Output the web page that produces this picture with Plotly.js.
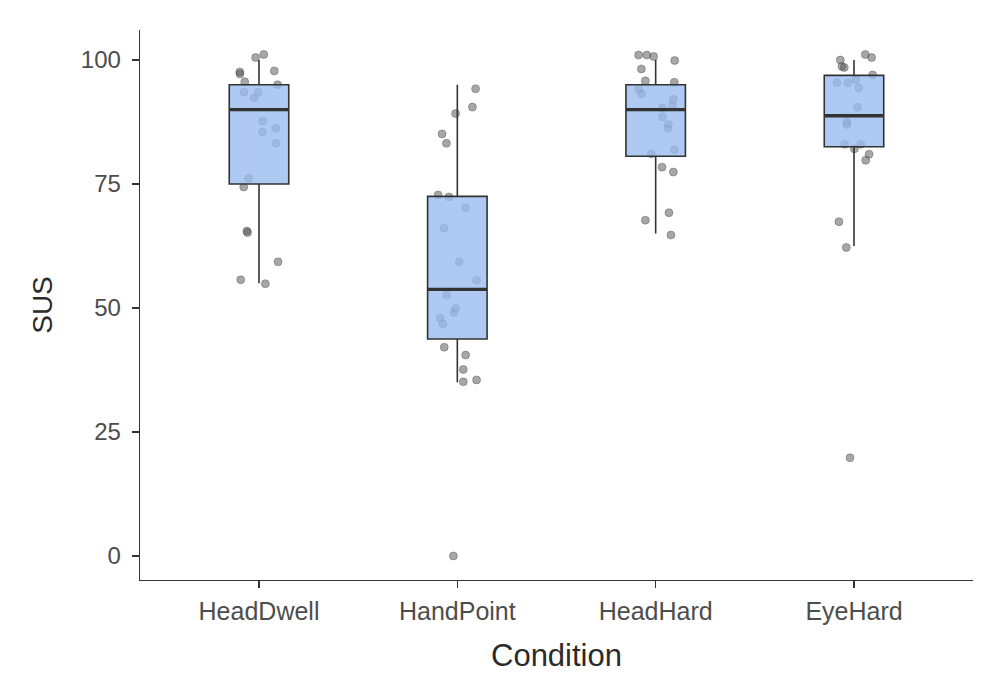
<!DOCTYPE html>
<html>
<head>
<meta charset="utf-8">
<script src="https://cdn.plot.ly/plotly-3.0.1.min.js"></script>
<style>
  html, body { margin: 0; padding: 0; background: #ffffff; }
  #chart { width: 1004px; height: 700px; }
</style>
</head>
<body>
<div id="chart"></div>
<script>
// ---- Data ----
const conditions = ['HeadDwell', 'HandPoint', 'HeadHard', 'EyeHard'];

// Box summary statistics (SUS)
const q1Values     = [75, 43.75, 80.6, 82.5];
const medianValues = [90, 53.75, 90, 88.75];
const q3Values     = [95, 72.5, 95, 96.9];
const lowerWhisker = [55, 35, 65, 62.5];
const upperWhisker = [100, 95, 100, 100];

// Individual (jittered) SUS scores per condition
const headDwellSUS = [100.5, 101.1, 97.6, 97.2, 97.8, 95.6, 95.0, 93.5, 93.5, 92.4, 87.7, 85.5, 86.2, 83.2, 76.1, 74.4, 65.5, 65.2, 59.3, 55.7, 54.9];
const headDwellJitter = [-0.017, 0.024, -0.097, -0.096, 0.077, -0.072, 0.094, -0.076, -0.004, -0.025, 0.019, 0.017, 0.084, 0.086, -0.052, -0.077, -0.061, -0.058, 0.096, -0.092, 0.032];

const handPointSUS = [94.2, 90.5, 89.2, 85.1, 83.2, 72.8, 72.4, 70.2, 66.1, 59.3, 55.6, 52.6, 49.9, 49.1, 48.0, 46.8, 42.1, 40.5, 37.6, 35.1, 35.5, 0.0];
const handPointJitter = [0.092, 0.076, -0.009, -0.077, -0.055, -0.097, -0.042, 0.042, -0.067, 0.010, 0.097, -0.054, -0.009, -0.017, -0.087, -0.072, -0.066, 0.042, 0.030, 0.030, 0.097, -0.020];

const headHardSUS = [101.0, 101.0, 100.7, 99.9, 98.2, 95.8, 95.5, 94.1, 93.2, 92.1, 90.9, 90.3, 88.5, 87.0, 86.2, 81.9, 81.1, 78.4, 77.4, 69.2, 67.7, 64.7];
const headHardJitter = [-0.086, -0.045, -0.010, 0.096, -0.072, -0.052, 0.094, -0.086, -0.071, 0.089, 0.084, 0.034, 0.035, 0.064, 0.061, 0.094, -0.022, 0.032, 0.089, 0.067, -0.052, 0.077];

const eyeHardSUS = [100.0, 101.1, 100.5, 98.7, 98.5, 97.0, 95.4, 95.4, 96.0, 94.4, 90.5, 87.5, 87.0, 83.0, 83.0, 82.1, 81.0, 79.8, 67.4, 62.2, 19.8];
const eyeHardJitter = [-0.069, 0.057, 0.089, -0.061, -0.049, 0.094, -0.086, -0.030, 0.009, 0.024, 0.017, -0.037, -0.035, -0.047, 0.034, 0.002, 0.076, 0.059, -0.076, -0.039, -0.020];

const yTickValues = [0, 25, 50, 75, 100];

// ---- Build traces ----
const pointSets = [
  [headDwellSUS, headDwellJitter],
  [handPointSUS, handPointJitter],
  [headHardSUS, headHardJitter],
  [eyeHardSUS, eyeHardJitter]
];

const BOX_WIDTH = 0.3;
const traces = [];

// jittered points (drawn on the base subplot, under the boxes)
pointSets.forEach(function (set, i) {
  const ys = set[0], jit = set[1];
  traces.push({
    type: 'scatter',
    mode: 'markers',
    x: ys.map(function (_, j) { return (i + 1) + jit[j]; }),
    y: ys,
    xaxis: 'x', yaxis: 'y',
    marker: {
      size: 8,
      color: 'rgba(80,80,80,0.5)',
      line: { color: 'rgba(60,60,60,0.35)', width: 1 }
    },
    hoverinfo: 'y',
    showlegend: false
  });
});

// boxes (overlay subplot so that they sit above the points)
traces.push({
  type: 'box',
  x: conditions.map(function (_, i) { return i + 1; }),
  q1: q1Values,
  median: medianValues,
  q3: q3Values,
  lowerfence: lowerWhisker,
  upperfence: upperWhisker,
  width: BOX_WIDTH,
  whiskerwidth: 0,
  boxpoints: false,
  fillcolor: 'rgba(154,188,239,0.8)',
  line: { color: '#333333', width: 1.6 },
  xaxis: 'x2', yaxis: 'y2',
  showlegend: false
});

// thicker median bars (as ggplot's fatten)
const medX = [], medY = [];
medianValues.forEach(function (m, i) {
  medX.push(i + 1 - BOX_WIDTH / 2, i + 1 + BOX_WIDTH / 2, null);
  medY.push(m, m, null);
});
traces.push({
  type: 'scatter',
  mode: 'lines',
  x: medX, y: medY,
  xaxis: 'x2', yaxis: 'y2',
  line: { color: '#333333', width: 3.4 },
  hoverinfo: 'skip',
  showlegend: false
});

const fontFamily = '"Liberation Sans", Arial, Helvetica, sans-serif';
const xRange = [0.4, 4.6];
const yRange = [-4.85, 106.05];

const layout = {
  width: 1004,
  height: 700,
  paper_bgcolor: '#ffffff',
  plot_bgcolor: '#ffffff',
  margin: { l: 140, r: 31, t: 30, b: 120 },
  font: { family: fontFamily, color: '#4d4d4d' },
  showlegend: false,
  xaxis: {
    range: xRange,
    tickvals: conditions.map(function (_, i) { return i + 1; }),
    ticktext: conditions,
    showgrid: false, zeroline: false,
    showline: true, linecolor: '#333333', linewidth: 1.3,
    ticks: 'outside', ticklen: 7, tickwidth: 1.3, tickcolor: '#333333',
    ticklabelstandoff: 2,
    tickfont: { family: fontFamily, size: 25, color: '#4d4d4d' },
    title: { text: 'Condition', font: { family: fontFamily, size: 31, color: '#2b2b2b' }, standoff: 20 }
  },
  yaxis: {
    range: yRange,
    tickvals: yTickValues,
    showgrid: false, zeroline: false,
    showline: true, linecolor: '#333333', linewidth: 1.3,
    ticks: 'outside', ticklen: 7, tickwidth: 1.3, tickcolor: '#333333',
    ticklabelstandoff: 6,
    tickfont: { family: fontFamily, size: 24, color: '#4d4d4d' },
    title: { text: 'SUS', font: { family: fontFamily, size: 28, color: '#2b2b2b' }, standoff: 20 }
  },
  xaxis2: { range: xRange, overlaying: 'x', anchor: 'y2', visible: false },
  yaxis2: { range: yRange, overlaying: 'y', anchor: 'x2', visible: false }
};

Plotly.newPlot('chart', traces, layout, { displayModeBar: false, staticPlot: true });
</script>
</body>
</html>
